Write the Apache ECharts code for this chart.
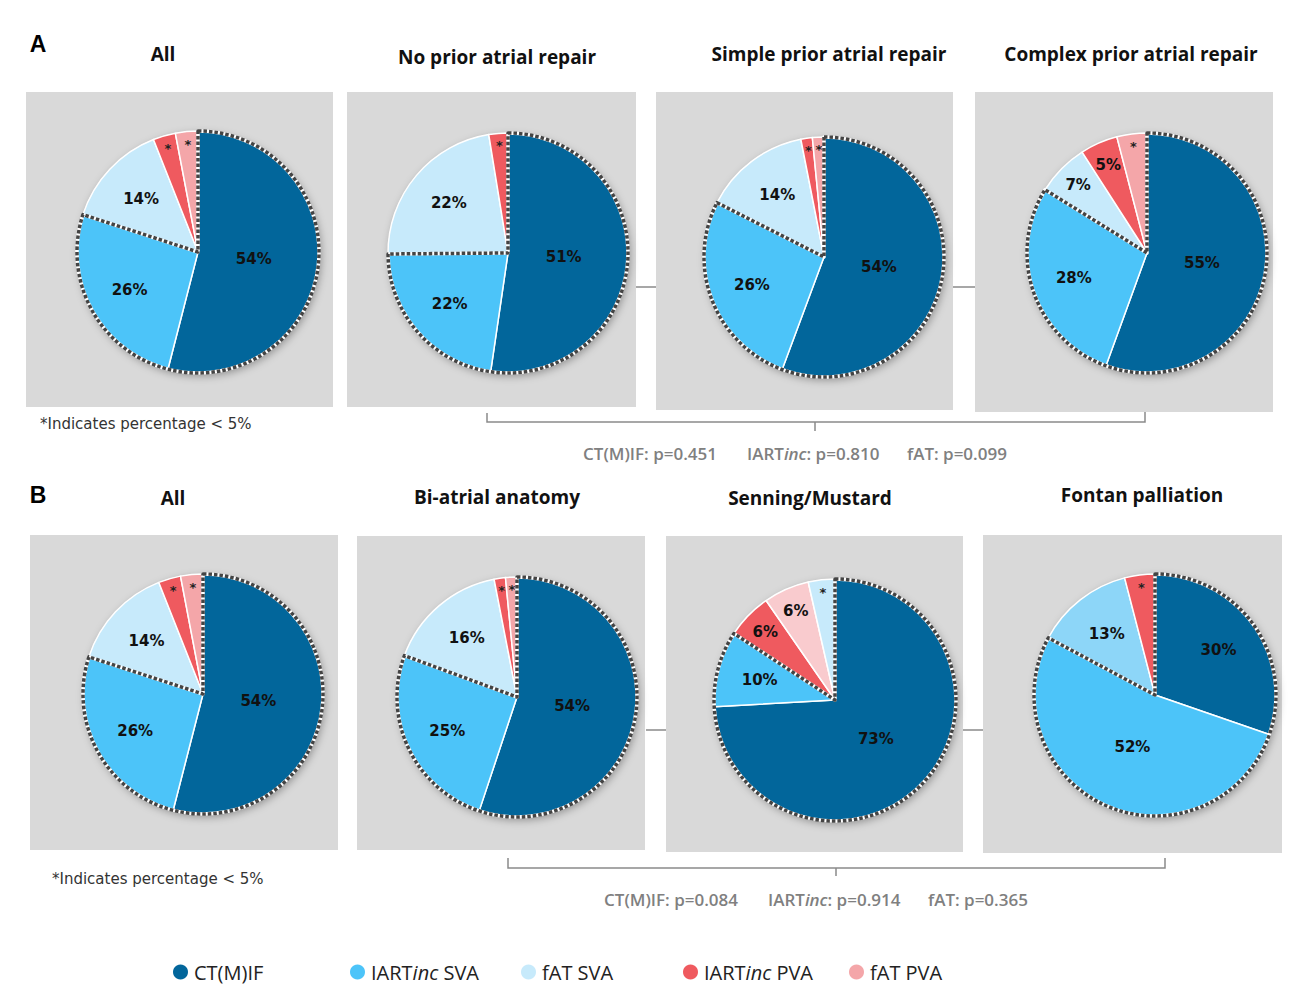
<!DOCTYPE html>
<html>
<head>
<meta charset="utf-8">
<title>Arrhythmia mechanisms by atrial repair and anatomy</title>
<script src="https://cdn.jsdelivr.net/npm/echarts@6/dist/echarts.min.js"></script>
<style>
  html, body { margin: 0; padding: 0; background: #fff; }
  #chart { width: 1301px; height: 1003px; }
</style>
</head>
<body>
<div id="chart"></div>
<script>
// mechanism categories, legend order
const categories = ['CT(M)IF', 'IARTinc SVA', 'fAT SVA', 'IARTinc PVA', 'fAT PVA'];

// A: by prior atrial repair (values < 5 are shown as *)
const titlesA = ['All', 'No prior atrial repair', 'Simple prior atrial repair', 'Complex prior atrial repair'];
const allA = [54, 26, 14, 3, 3];
const noPrior = [51, 22, 22, 2.5];
const simplePrior = [54, 26, 14, 1.5, 1.5];
const complexPrior = [55, 28, 7, 5, 4];
const pLabelsA = ['CT(M)IF: p=0.451', 'IART{i|inc}: p=0.810', 'fAT: p=0.099'];

// B: by anatomy
const titlesB = ['All', 'Bi-atrial anatomy', 'Senning/Mustard', 'Fontan palliation'];
const allB = [54, 26, 14, 3, 3];
const biAtrial = [54, 25, 16, 1.5, 1.5];
const senning = [73, 10, 6, 6, 3.5];
const fontan = [30, 52, 13, 4];
const pLabelsB = ['CT(M)IF: p=0.084', 'IART{i|inc}: p=0.914', 'fAT: p=0.365'];

// category of each slice, clockwise from 12 o'clock
const orderDefault = [0, 1, 2, 3, 4];
const orderSenning = [0, 1, 3, 4, 2];

// styles
const colors = ['#02669b', '#4cc4f9', '#c7eafb', '#ef5a5f', '#f4a6a9'];
const panelGrey = '#d9d9d9';
const lineGrey = '#8a8a8a';

// layout: grey panel [x, y, w, h], pie centre and radius
const pies = [
  { values: allA, order: orderDefault, panel: [26, 92, 307, 315], c: [198, 252], r: 121 },
  { values: noPrior, order: orderDefault, panel: [347, 92, 289, 315], c: [508, 253], r: 120 },
  { values: simplePrior, order: orderDefault, panel: [656, 92, 297, 318], c: [824, 257], r: 120 },
  { values: complexPrior, order: orderDefault, panel: [975, 92, 298, 320], c: [1147, 253], r: 120 },
  { values: allB, order: orderDefault, panel: [30, 535, 308, 315], c: [203, 694], r: 120 },
  { values: biAtrial, order: orderDefault, panel: [357, 536, 288, 314], c: [517, 697], r: 120 },
  { values: senning, order: orderSenning, panel: [666, 536, 297, 316], c: [835, 700], r: 121, colorFix: { 4: '#f9cbce' } },
  { values: fontan, order: orderDefault, panel: [983, 535, 299, 318], c: [1155, 695], r: 121, colorFix: { 2: '#8dd6f8' } }
];
const titleX = [163, 497, 829, 1131, 173, 497, 810, 1142];
const titleY = [54, 57, 54, 54, 498, 497, 498, 495];

const clear = 'rgba(0,0,0,0)';
const pctFont = { color: '#111', fontFamily: 'DejaVu Sans', fontWeight: 'bold', fontSize: 15 };

function pieSeries(p) {
  const r = p.r;
  const total = p.values.reduce((a, b) => a + b, 0);
  const group = p.values[0] + p.values[1];
  const common = {
    type: 'pie', center: p.c, startAngle: 90, clockwise: true, silent: true,
    animation: false, avoidLabelOverlap: false, labelLine: { show: false },
    labelLayout: { hideOverlap: false }, emphasis: { disabled: true }
  };
  const items = p.values.map((v, i) => {
    const cat = p.order[i];
    return {
      name: categories[cat], value: v,
      itemStyle: { color: (p.colorFix && p.colorFix[cat]) || colors[cat] }
    };
  });
  const ghost = p.values.map(v => ({ value: v, itemStyle: { color: clear, borderWidth: 0 } }));
  const outline = (style) => [
    { value: group, itemStyle: Object.assign({ color: clear }, style) },
    { value: total - group, itemStyle: { color: clear, borderWidth: 0 } }
  ];
  // transparent rings that only carry labels, so labels sit at different depths
  const labelRing = (r0, r1, z, fmt, font) => Object.assign({}, common, {
    radius: [r0, r1], z: z, data: ghost,
    label: Object.assign({ show: true, position: 'inside', formatter: fmt }, font)
  });
  return [
    // shadow under the pie
    Object.assign({}, common, {
      radius: [0, r], z: 1, label: { show: false },
      data: [{ value: 1, itemStyle: { color: panelGrey, shadowBlur: 8, shadowOffsetX: 2, shadowOffsetY: 3, shadowColor: 'rgba(0,0,0,0.35)' } }]
    }),
    Object.assign({}, common, {
      radius: [0, r], z: 2, data: items, label: { show: false },
      itemStyle: { borderColor: '#fff', borderWidth: 1.5 }
    }),
    // dotted outline round CT(M)IF + IARTinc SVA
    Object.assign({}, common, {
      radius: [0, r], z: 3, label: { show: false },
      data: outline({ borderColor: '#fff', borderWidth: 3.5 })
    }),
    Object.assign({}, common, {
      radius: [0, r], z: 4, label: { show: false },
      data: outline({ borderColor: '#444', borderWidth: 3.5, borderType: [3.5, 2] })
    }),
    labelRing(0, r * 0.88, 5, d => d.value >= 45 ? d.value + '%' : '', pctFont),
    labelRing(r * 0.32, r * 0.92, 6, d => d.value >= 10 && d.value < 45 ? d.value + '%' : '', pctFont),
    labelRing(r * 0.56, r, 7, d => d.value >= 5 && d.value < 10 ? d.value + '%' : '', pctFont),
    labelRing(r * 0.74, r, 8, d => d.value < 5 ? '*' : '',
      { color: '#222', fontFamily: 'DejaVu Sans', fontWeight: 'bold', fontSize: 13 })
  ];
}

const series = [];
pies.forEach(p => pieSeries(p).forEach(s => series.push(s)));

const graphics = [];
pies.forEach(p => {
  graphics.push({ type: 'rect', z: 0, shape: { x: p.panel[0], y: p.panel[1], width: p.panel[2], height: p.panel[3] }, style: { fill: panelGrey } });
});
titlesA.concat(titlesB).forEach((t, i) => {
  graphics.push({
    type: 'text', x: titleX[i], y: titleY[i],
    style: { text: t, textAlign: 'center', textVerticalAlign: 'middle', fontFamily: 'Open Sans', fontWeight: 'bold', fontSize: 19, fill: '#111' }
  });
});
[['A', 38, 44], ['B', 38, 495]].forEach(l => {
  graphics.push({ type: 'text', x: l[1], y: l[2], style: { text: l[0], textAlign: 'center', textVerticalAlign: 'middle', fontFamily: 'Liberation Sans', fontWeight: 'bold', fontSize: 23, fill: '#000' } });
});
[[40, 424], [52, 879]].forEach(n => {
  graphics.push({ type: 'text', x: n[0], y: n[1], style: { text: '*Indicates percentage < 5%', textVerticalAlign: 'middle', fontFamily: 'DejaVu Sans', fontSize: 15, fill: '#333' } });
});

// brackets and connectors
const lineStyle = { stroke: lineGrey, lineWidth: 1.5, fill: null };
[
  [[487, 413], [487, 422], [1145, 422], [1145, 412]],
  [[815, 422], [815, 431]],
  [[636, 287], [656, 287]],
  [[953, 287], [975, 287]],
  [[508, 858], [508, 868], [1165, 868], [1165, 858]],
  [[836, 868], [836, 876]],
  [[646, 730], [666, 730]],
  [[963, 730], [983, 730]]
].forEach(pts => graphics.push({ type: 'polyline', shape: { points: pts }, style: lineStyle }));

// p-values
const pFont = { fontFamily: 'Open Sans', fontWeight: 600, fontSize: 17, fill: '#808080' };
const pRich = { i: Object.assign({ fontStyle: 'italic' }, pFont) };
[[pLabelsA, [583, 747, 907], 453], [pLabelsB, [604, 768, 928], 899]].forEach(row => {
  row[0].forEach((t, i) => {
    graphics.push({ type: 'text', x: row[1][i], y: row[2], style: Object.assign({ text: t, textVerticalAlign: 'middle', rich: pRich }, pFont) });
  });
});

// one legend per entry, spaced like the figure
const legendLeft = [166, 343, 514, 676, 842];
const legendFont = { fontFamily: 'Open Sans', fontSize: 20, color: '#222' };
const legends = categories.map((c, i) => ({
  data: [c], left: legendLeft[i], top: 957, icon: 'circle',
  itemWidth: 17, itemHeight: 19, selectedMode: false,
  formatter: n => n.replace('inc', '{i|inc}'),
  textStyle: Object.assign({ rich: { i: Object.assign({ fontStyle: 'italic' }, legendFont) } }, legendFont)
}));

const chart = echarts.init(document.getElementById('chart'), null, { renderer: 'svg' });
chart.setOption({
  backgroundColor: '#fff',
  animation: false,
  legend: legends,
  graphic: { elements: graphics },
  series: series
});
</script>
</body>
</html>
